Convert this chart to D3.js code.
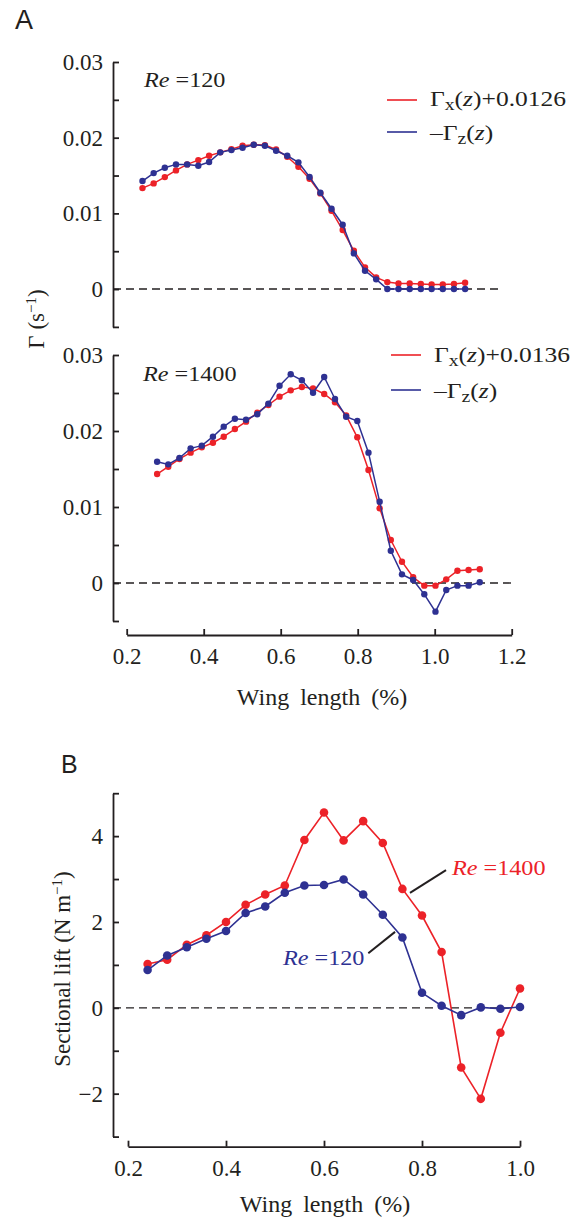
<!DOCTYPE html>
<html><head><meta charset="utf-8">
<script src="https://cdn.jsdelivr.net/npm/d3@7"></script>
<style>
html,body{margin:0;padding:0;background:#fff;}
svg text{font-family:"Liberation Serif","Times New Roman",serif;fill:#231f20;}
</style></head>
<body><svg id="c" width="585" height="1218"></svg>
<script>
// ---------- data ----------
const xTop = [0.241,0.270,0.299,0.328,0.357,0.386,0.414,0.443,0.472,0.501,0.530,0.559,0.588,0.617,0.646,0.675,0.703,0.732,0.761,0.790,0.819,0.848,0.877,0.906,0.935,0.964,0.992,1.021,1.050,1.079];
const topRed = [0.01334,0.01396,0.01479,0.01568,0.01647,0.01704,0.01761,0.01806,0.01849,0.01893,0.01907,0.01902,0.01845,0.01748,0.01616,0.01457,0.01264,0.01034,0.0078,0.00506,0.00287,0.00155,0.00092,0.00075,0.00075,0.00066,0.0006,0.0006,0.00066,0.00083];
const topBlue = [0.01427,0.01532,0.01603,0.01647,0.01647,0.01629,0.01678,0.01806,0.01836,0.01867,0.01907,0.01893,0.01827,0.01761,0.01674,0.0148,0.01272,0.01061,0.0085,0.00471,0.00242,0.00128,0,0,0,0,0,0,0,0];
const xMid = [0.279,0.308,0.337,0.366,0.395,0.424,0.452,0.481,0.510,0.539,0.568,0.597,0.626,0.655,0.684,0.713,0.741,0.770,0.799,0.828,0.857,0.886,0.915,0.944,0.973,1.002,1.030,1.059,1.088,1.117];
const midRed = [0.01434,0.0153,0.01632,0.01715,0.01785,0.01846,0.01925,0.02026,0.02123,0.02241,0.02342,0.02452,0.02535,0.02579,0.02561,0.02487,0.02378,0.02206,0.01917,0.01487,0.00982,0.00566,0.0028,0.00075,-0.00035,-0.00035,0.00048,0.00162,0.00171,0.0018];
const midBlue = [0.01596,0.01561,0.01645,0.01772,0.01807,0.01925,0.02057,0.02162,0.02149,0.0222,0.0236,0.02596,0.02746,0.02667,0.02504,0.02711,0.02421,0.02188,0.02132,0.01715,0.0107,0.00425,0.00114,0.0004,-0.00149,-0.00377,-0.00092,-0.00035,-0.00035,0.0001];
const xB = [0.24,0.28,0.32,0.36,0.40,0.44,0.48,0.52,0.56,0.60,0.64,0.68,0.72,0.76,0.80,0.84,0.88,0.92,0.96,1.00];
const liftRe1400 = [1.02,1.12,1.47,1.69,2.0,2.40,2.64,2.85,3.91,4.55,3.90,4.35,3.84,2.77,2.15,1.30,-1.39,-2.12,-0.58,0.45];
const liftRe120 = [0.88,1.22,1.41,1.61,1.79,2.21,2.36,2.68,2.85,2.86,2.99,2.64,2.17,1.64,0.35,0.05,-0.17,0.01,-0.02,0.02];
const gammaTicks = [-0.005,0,0.005,0.01,0.015,0.02,0.025,0.03];
const gammaLabels = [0,0.01,0.02,0.03];
const xTicksA = [0.2,0.4,0.6,0.8,1.0,1.2];
const xTicksB = [0.2,0.4,0.6,0.8,1.0];
const liftTicks = [-3,-2,-1,0,1,2,3,4,5];
const liftLabels = [-2,0,2,4];

// ---------- styling ----------
const RED = "#ec2228", BLUE = "#2e3192", INK = "#231f20";
const svg = d3.select("#c");

const xA = d3.scaleLinear().domain([0.2,1.2]).range([126.7,511.7]);
const yTop = d3.scaleLinear().domain([-0.005,0.03]).range([326.9,62]);
const yMid = d3.scaleLinear().domain([-0.005,0.03]).range([621,355]);
const xSB = d3.scaleLinear().domain([0.2,1.0]).range([128,520]);
const ySB = d3.scaleLinear().domain([-3,5]).range([1136.6,793.2]);

function fmtGamma(d){ return gammaLabels.some(v=>Math.abs(v-d)<1e-9) ? (d===0?"0":d3.format(".2f")(d)) : ""; }
function fmtLift(d){ return liftLabels.includes(d) ? (d<0 ? "\u2212"+(-d) : String(d)) : ""; }

function styleAxis(g){
  g.attr("font-family",null).attr("font-size",null);
  g.selectAll("path.domain").attr("stroke",INK).attr("stroke-width",1.8);
  g.selectAll(".tick line").attr("stroke",INK).attr("stroke-width",1.8);
  g.selectAll(".tick text").attr("fill",INK).style("font-size","23px");
}

function yAxis(scale, ticks, fmt, x){
  const g = svg.append("g").attr("transform",`translate(${x},0)`)
    .call(d3.axisLeft(scale).tickValues(ticks).tickFormat(fmt).tickSizeInner(-6).tickSizeOuter(0).tickPadding(10));
  styleAxis(g);
  return g;
}
function xAxis(scale, ticks, y){
  const g = svg.append("g").attr("transform",`translate(0,${y})`)
    .call(d3.axisBottom(scale).tickValues(ticks).tickFormat(d3.format(".1f")).tickSizeInner(-6).tickSizeOuter(0).tickPadding(13));
  styleAxis(g);
  return g;
}

function zeroLine(x0,x1,y){
  svg.append("line").attr("x1",x0).attr("x2",x1).attr("y1",y).attr("y2",y)
    .attr("stroke",INK).attr("stroke-width",1.4).attr("stroke-dasharray","8,5");
}

function series(xs, ys, xs_, ys_, color, r, sw){
  const pts = xs.map((x,i)=>[x,ys[i]]);
  const line = d3.line().x(d=>xs_(d[0])).y(d=>ys_(d[1]));
  svg.append("path").datum(pts).attr("d",line).attr("fill","none").attr("stroke",color).attr("stroke-width",sw);
  svg.append("g").selectAll("circle").data(pts).join("circle")
    .attr("cx",d=>xs_(d[0])).attr("cy",d=>ys_(d[1])).attr("r",r).attr("fill",color);
}

// ---------- Panel A ----------
svg.append("text").attr("x",15).attr("y",29).text("A")
  .style("font-family",'"Liberation Sans",Arial,sans-serif').style("font-size","27px");

yAxis(yTop, gammaTicks, fmtGamma, 113);
yAxis(yMid, gammaTicks, fmtGamma, 113);
xAxis(xA, xTicksA, 635);

zeroLine(113, 500, yTop(0));
zeroLine(113, xA(1.2), yMid(0));

series(xTop, topRed, xA, yTop, RED, 3.2, 1.5);
series(xTop, topBlue, xA, yTop, BLUE, 3.2, 1.5);
series(xMid, midRed, xA, yMid, RED, 3.2, 1.5);
series(xMid, midBlue, xA, yMid, BLUE, 3.2, 1.5);

function reLabel(x, y, num, color){
  const t = svg.append("g").attr("transform",`translate(${x},${y}) scale(1.1,1)`)
    .append("text").style("font-size","22px");
  if(color) t.style("fill",color);
  t.append("tspan").style("font-style","italic").text("Re");
  t.append("tspan").text(" =" + num);
}
reLabel(144, 87, "120");
reLabel(143, 381, "1400");

function legendItem(x, yLine, yText, color, kind, offset){
  svg.append("line").attr("x1",x).attr("x2",x+30).attr("y1",yLine).attr("y2",yLine)
    .attr("stroke",color).attr("stroke-width",1.6);
  const t = svg.append("g").attr("transform",`translate(${x+43},${yText}) scale(1.16,1)`)
    .append("text").style("font-size","22px");
  if(kind==="x"){
    t.append("tspan").text("\u0393");
    t.append("tspan").attr("baseline-shift","-22%").style("font-size","17px").text("x");
    t.append("tspan").text("(");
    t.append("tspan").style("font-style","italic").text("z");
    t.append("tspan").text(")+" + offset);
  } else {
    t.append("tspan").text("\u2013\u0393");
    t.append("tspan").attr("baseline-shift","-22%").style("font-size","17px").text("z");
    t.append("tspan").text("(");
    t.append("tspan").style("font-style","italic").text("z");
    t.append("tspan").text(")");
  }
}
legendItem(387, 100, 106, RED, "x", "0.0126");
legendItem(387, 132, 140, BLUE, "z");
legendItem(391, 355, 362, RED, "x", "0.0136");
legendItem(391, 390, 398, BLUE, "z");

// y label A
{
  const t = svg.append("text").attr("transform","translate(44,319) rotate(-90)")
    .attr("text-anchor","middle").style("font-size","23px");
  t.append("tspan").text("\u0393 (s");
  t.append("tspan").attr("baseline-shift","super").style("font-size","15px").text("\u22121");
  t.append("tspan").text(")");
}
svg.append("text").attr("x",322).attr("y",705).attr("text-anchor","middle")
  .style("font-size","24px").style("word-spacing","5px").text("Wing length (%)");

// ---------- Panel B ----------
svg.append("text").attr("x",61).attr("y",773).text("B")
  .style("font-family",'"Liberation Sans",Arial,sans-serif').style("font-size","25px");

yAxis(ySB, liftTicks, fmtLift, 113);
xAxis(xSB, xTicksB, 1146.7);
zeroLine(113, 523, ySB(0));

series(xB, liftRe1400, xSB, ySB, RED, 4.3, 1.6);
series(xB, liftRe120, xSB, ySB, BLUE, 4.3, 1.6);

// leader lines + labels
svg.append("line").attr("x1",xSB(0.7755)).attr("y1",ySB(2.68)).attr("x2",xSB(0.849)).attr("y2",ySB(3.21))
  .attr("stroke",INK).attr("stroke-width",2);
svg.append("line").attr("x1",xSB(0.6904)).attr("y1",ySB(1.27)).attr("x2",xSB(0.745)).attr("y2",ySB(1.77))
  .attr("stroke",INK).attr("stroke-width",2);
reLabel(452, 875, "1400", RED);
reLabel(283, 965, "120", BLUE);

{
  const t = svg.append("text").attr("transform","translate(70,969) rotate(-90)")
    .attr("text-anchor","middle").style("font-size","23px");
  t.append("tspan").text("Sectional lift (N m");
  t.append("tspan").attr("baseline-shift","super").style("font-size","15px").text("\u22121");
  t.append("tspan").text(")");
}
svg.append("text").attr("x",325).attr("y",1212).attr("text-anchor","middle")
  .style("font-size","24px").style("word-spacing","5px").text("Wing length (%)");
</script></body></html>
